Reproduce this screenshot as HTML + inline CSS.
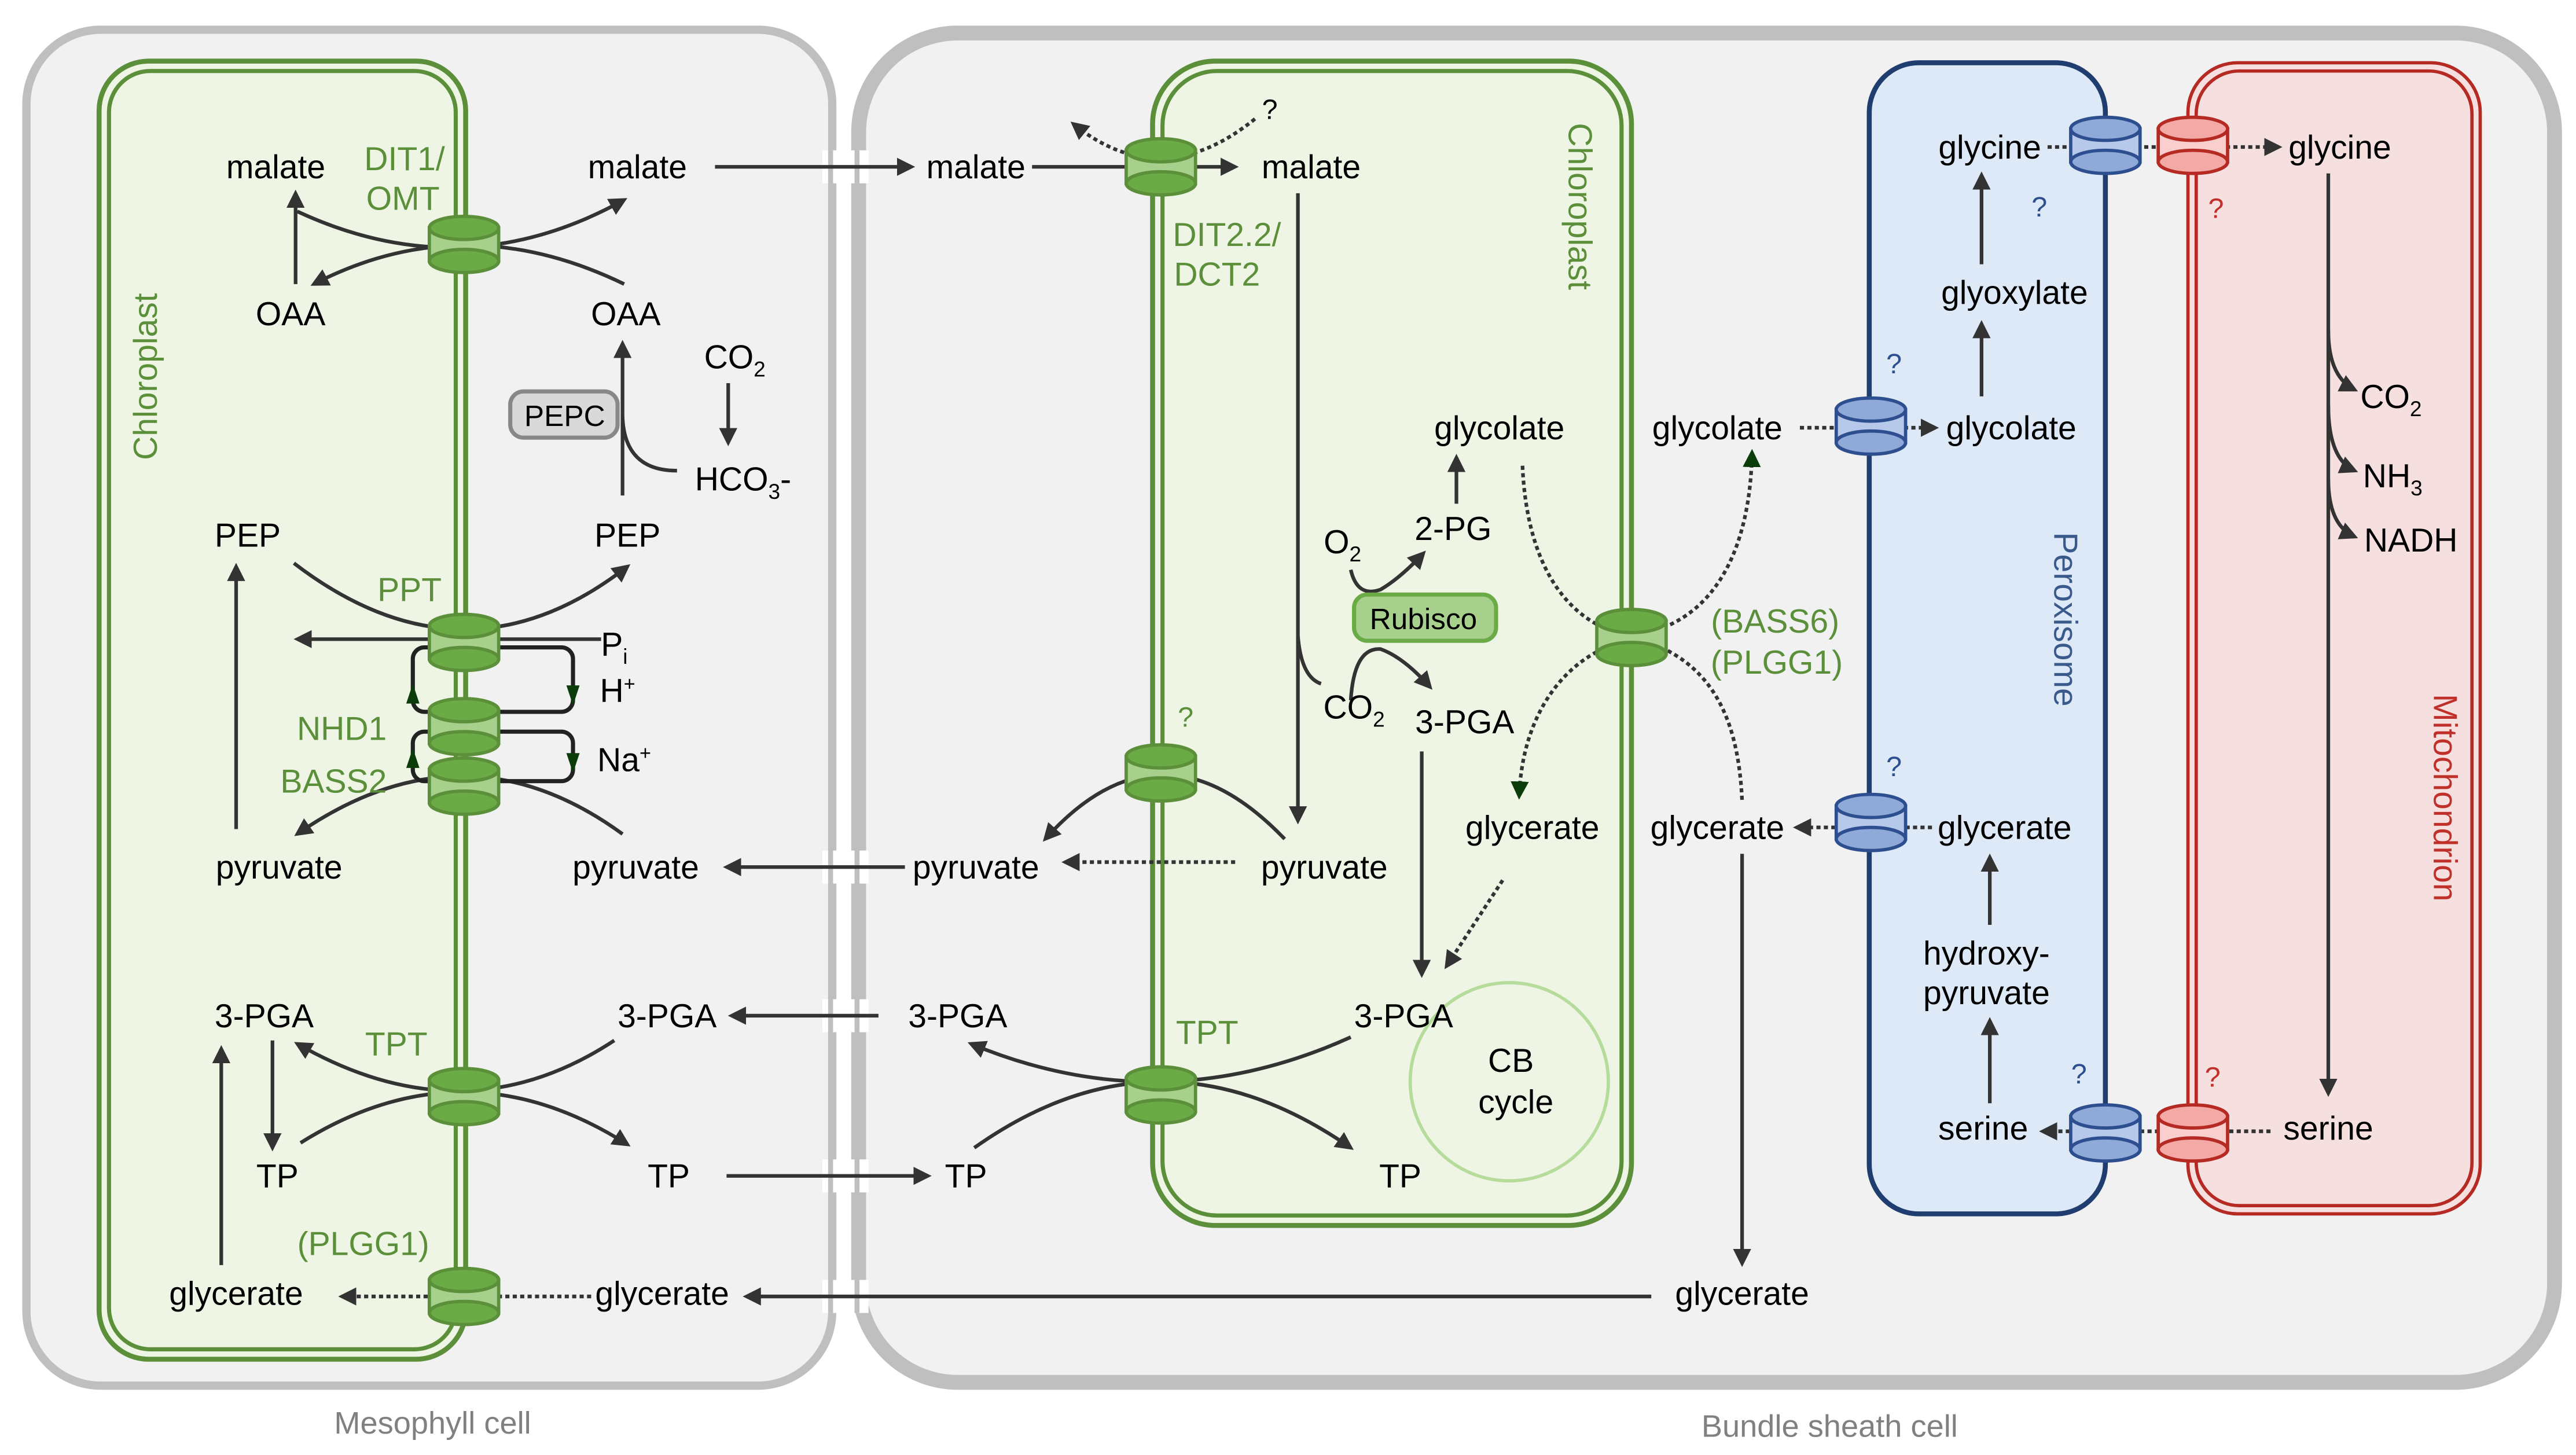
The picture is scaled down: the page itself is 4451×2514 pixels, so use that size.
<!DOCTYPE html>
<html><head><meta charset="utf-8"><style>
html,body{margin:0;padding:0;background:#fff;}
svg{display:block;}
text{font-family:"Liberation Sans",sans-serif;}
</style></head><body>
<svg width="4451" height="2514" viewBox="0 0 1560 881" preserveAspectRatio="none" xmlns="http://www.w3.org/2000/svg">
<defs>
<marker id="a" viewBox="0 0 10 10" refX="8" refY="5" markerWidth="5" markerHeight="5" orient="auto"><path d="M0,0L10,5L0,10z" fill="#333"/></marker>
<marker id="g" viewBox="0 0 10 10" refX="8" refY="5" markerWidth="5" markerHeight="5" orient="auto"><path d="M0,0L10,5L0,10z" fill="#0b3d0b"/></marker>
<g id="cg"><rect x="-21" y="-10" width="42" height="20" fill="#a8d08d" stroke="#5b8f3a" stroke-width="2"/><ellipse cx="0" cy="10" rx="21" ry="7" fill="#6aab45" stroke="#5b8f3a" stroke-width="2"/><ellipse cx="0" cy="-10" rx="21" ry="7" fill="#6aab45" stroke="#5b8f3a" stroke-width="2"/></g>
<g id="cb"><rect x="-21" y="-10" width="42" height="20" fill="#b7c9ea" stroke="#2e4f8f" stroke-width="2"/><ellipse cx="0" cy="10" rx="21" ry="7" fill="#8fa9d9" stroke="#2e4f8f" stroke-width="2"/><ellipse cx="0" cy="-10" rx="21" ry="7" fill="#8fa9d9" stroke="#2e4f8f" stroke-width="2"/></g>
<g id="cr"><rect x="-21" y="-10" width="42" height="20" fill="#f8cfcc" stroke="#b52a22" stroke-width="2"/><ellipse cx="0" cy="10" rx="21" ry="7" fill="#f3a9a5" stroke="#b52a22" stroke-width="2"/><ellipse cx="0" cy="-10" rx="21" ry="7" fill="#f3a9a5" stroke="#b52a22" stroke-width="2"/></g>
</defs>
<rect width="1560" height="881" fill="#fff"/>
<rect x="16" y="18" width="488" height="821" rx="45" fill="#f1f1f1" stroke="#bfbfbf" stroke-width="5"/>
<rect x="520" y="20" width="1027" height="817" rx="60" fill="#f1f1f1" stroke="#bfbfbf" stroke-width="9"/>
<g fill="#fff">
<rect x="498" y="91" width="28" height="20"/><rect x="498" y="515" width="28" height="20"/>
<rect x="498" y="605" width="28" height="20"/><rect x="498" y="702" width="28" height="20"/><rect x="498" y="775" width="28" height="20"/>
</g>
<g stroke="#bfbfbf" stroke-width="3"><line x1="503" y1="91" x2="503" y2="795"/><line x1="519" y1="91" x2="519" y2="795"/></g>
<g fill="#fff"><rect x="505" y="93" width="12" height="16"/><rect x="505" y="517" width="12" height="16"/><rect x="505" y="607" width="12" height="16"/><rect x="505" y="704" width="12" height="16"/><rect x="505" y="777" width="12" height="16"/></g>
<text x="262" y="868" font-size="19" fill="#808080" text-anchor="middle">Mesophyll cell</text>
<text x="1108" y="870" font-size="19" fill="#808080" text-anchor="middle">Bundle sheath cell</text>
<rect x="60" y="37" width="222" height="786" rx="30" fill="#eef5e5" stroke="#5b8f3a" stroke-width="3"/>
<rect x="66" y="43" width="210" height="774" rx="25" fill="none" stroke="#5b8f3a" stroke-width="2.5"/>
<text transform="translate(95,228) rotate(-90)" font-size="20" fill="#5b8f3a" text-anchor="middle">Chloroplast</text>
<rect x="698" y="37" width="290" height="705" rx="38" fill="#eef5e5" stroke="#5b8f3a" stroke-width="3"/>
<rect x="704" y="43" width="278" height="693" rx="33" fill="none" stroke="#5b8f3a" stroke-width="2.5"/>
<text transform="translate(950,125) rotate(90)" font-size="20" fill="#5b8f3a" text-anchor="middle">Chloroplast</text>
<circle cx="914" cy="655" r="60" fill="none" stroke="#b5dc9a" stroke-width="2"/>
<rect x="1132" y="38" width="143" height="697" rx="30" fill="#dde9f7" stroke="#1f3d6e" stroke-width="3"/>
<text transform="translate(1244,375) rotate(90)" font-size="20" fill="#3a5a8c" text-anchor="middle">Peroxisome</text>
<rect x="1325" y="38" width="177" height="697" rx="30" fill="#f5dfdf" stroke="#b52a22" stroke-width="2"/>
<rect x="1330" y="43" width="167" height="687" rx="26" fill="none" stroke="#b52a22" stroke-width="2"/>
<text transform="translate(1474,483) rotate(90)" font-size="20" fill="#c0302a" text-anchor="middle">Mitochondrion</text>
<g fill="none" stroke="#333" stroke-width="2.2">
<path d="M180,128 Q281,175 378,121" marker-end="url(#a)"/>
<path d="M378,172 Q281,125 190,172" marker-end="url(#a)"/>
<path d="M179,172 V117" marker-end="url(#a)"/>
<path d="M377,300 V208" marker-end="url(#a)"/>
<path d="M410,285 Q378,285 377,252"/>
<path d="M441,232 V268" marker-end="url(#a)"/>
<path d="M178,341 Q281,420 380,343" marker-end="url(#a)"/>
<path d="M364,387 H180" marker-end="url(#a)"/>
<path d="M143,502 V343" marker-end="url(#a)"/>
<path d="M377,505 Q281,435 180,505" marker-end="url(#a)"/>
<path d="M548,525 H440" marker-end="url(#a)"/>
<path d="M165,630 V695" marker-end="url(#a)"/>
<path d="M134,766 V635" marker-end="url(#a)"/>
<path d="M372,630 Q281,690 180,632" marker-end="url(#a)"/>
<path d="M182,692 Q281,630 380,693" marker-end="url(#a)"/>
<path d="M532,615 H443" marker-end="url(#a)"/>
<path d="M440,712 H562" marker-end="url(#a)"/>
<path d="M1000,785 H452" marker-end="url(#a)"/>
<path d="M433,101 H552" marker-end="url(#a)"/>
<path d="M625,101 H748" marker-end="url(#a)"/>
<path d="M786,117 V497" marker-end="url(#a)"/>
<path d="M786,385 Q788,410 800,414"/>
<path d="M778,508 Q703,430 633,508" marker-end="url(#a)"/>
<path d="M590,695 Q703,615 818,695" marker-end="url(#a)"/>
<path d="M818,628 Q703,680 588,632" marker-end="url(#a)"/>
<path d="M818,345 Q822,362 836,357 Q848,350 862,335" marker-end="url(#a)"/>
<path d="M818,424 Q820,392 836,393 Q850,398 866,416" marker-end="url(#a)"/>
<path d="M882,305 V277" marker-end="url(#a)"/>
<path d="M861,455 V590" marker-end="url(#a)"/>
<path d="M1055,517 V765" marker-end="url(#a)"/>
<path d="M1200,240 V196" marker-end="url(#a)"/>
<path d="M1200,160 V106" marker-end="url(#a)"/>
<path d="M1410,105 V662" marker-end="url(#a)"/>
<path d="M1410,200 Q1410,228 1426,236" marker-end="url(#a)"/>
<path d="M1410,245 Q1410,278 1426,285" marker-end="url(#a)"/>
<path d="M1410,290 Q1410,318 1426,325" marker-end="url(#a)"/>
<path d="M1205,668 V618" marker-end="url(#a)"/>
<path d="M1205,560 V519" marker-end="url(#a)"/>
</g>
<g fill="none" stroke="#333" stroke-width="2.2" stroke-dasharray="2.5,2">
<path d="M358,785 H207" marker-end="url(#a)"/>
<path d="M760,72 Q703,118 650,75" marker-end="url(#a)"/>
<path d="M748,522 H645" marker-end="url(#a)"/>
<path d="M910,533 L876,585" marker-end="url(#a)"/>
<path d="M1090,259 H1172" marker-end="url(#a)"/>
<path d="M1240,89 H1380" marker-end="url(#a)"/>
<path d="M1375,685 H1237" marker-end="url(#a)"/>
<path d="M1170,501 H1088" marker-end="url(#a)"/>
<path d="M1010,394 C1040,410 1053,440 1055,485"/>
<path d="M922,282 C925,350 955,380 988,385 C1040,378 1060,330 1061,274" marker-end="url(#g)"/>
<path d="M988,387 C950,395 922,430 920,482" marker-end="url(#g)"/>
</g>
<g fill="none" stroke="#222" stroke-width="2.5">
<rect x="250" y="392" width="97" height="39" rx="7"/>
<rect x="250" y="443" width="97" height="30" rx="7"/>
</g>
<g fill="#0b3d0b"><path d="M343,415 L351,415 L347,427z"/><path d="M246,426 L254,426 L250,414z"/><path d="M343,456 L351,456 L347,468z"/><path d="M246,465 L254,465 L250,453z"/></g>
<use href="#cg" x="281" y="148"/><use href="#cg" x="281" y="389"/><use href="#cg" x="281" y="440"/><use href="#cg" x="281" y="476"/><use href="#cg" x="281" y="664"/><use href="#cg" x="281" y="785"/>
<use href="#cg" x="703" y="101"/><use href="#cg" x="703" y="468"/><use href="#cg" x="703" y="663"/><use href="#cg" x="988" y="386"/>
<use href="#cb" x="1133" y="258"/><use href="#cb" x="1133" y="498"/><use href="#cb" x="1275" y="88"/><use href="#cb" x="1275" y="686"/>
<use href="#cr" x="1328" y="88"/><use href="#cr" x="1328" y="686"/>
<rect x="309" y="237" width="65" height="28" rx="8" fill="#d9d9d9" stroke="#888" stroke-width="2.5"/>
<text x="342" y="258" font-size="18" text-anchor="middle">PEPC</text>
<rect x="820" y="360" width="86" height="28" rx="8" fill="#a8d08d" stroke="#6aab45" stroke-width="2.5"/>
<text x="862" y="381" font-size="18" text-anchor="middle">Rubisco</text>
<g font-size="20" text-anchor="middle" fill="#000">
<text x="167" y="108">malate</text><text x="386" y="108">malate</text>
<text x="176" y="197">OAA</text><text x="379" y="197">OAA</text>
<text x="445" y="223">CO<tspan font-size="13" dy="5">2</tspan></text>
<text x="450" y="297">HCO<tspan font-size="13" dy="5">3</tspan><tspan dy="-5">-</tspan></text>
<text x="150" y="331">PEP</text><text x="380" y="331">PEP</text>
<text x="372" y="397">P<tspan font-size="13" dy="5">i</tspan></text>
<text x="374" y="425">H<tspan font-size="12" dy="-7">+</tspan></text>
<text x="378" y="467">Na<tspan font-size="12" dy="-7">+</tspan></text>
<text x="169" y="532">pyruvate</text><text x="385" y="532">pyruvate</text>
<text x="160" y="622">3-PGA</text><text x="404" y="622">3-PGA</text>
<text x="168" y="719">TP</text><text x="405" y="719">TP</text>
<text x="143" y="790">glycerate</text><text x="401" y="790">glycerate</text>
<text x="591" y="108">malate</text><text x="591" y="532">pyruvate</text><text x="580" y="622">3-PGA</text><text x="585" y="719">TP</text>
<text x="769" y="72" font-size="17">?</text>
<text x="794" y="108">malate</text>
<text x="908" y="266">glycolate</text><text x="880" y="327">2-PG</text>
<text x="813" y="335">O<tspan font-size="13" dy="5">2</tspan></text>
<text x="820" y="435">CO<tspan font-size="13" dy="5">2</tspan></text>
<text x="887" y="444">3-PGA</text>
<text x="928" y="508">glycerate</text><text x="802" y="532">pyruvate</text>
<text x="850" y="622">3-PGA</text><text x="915" y="649">CB</text><text x="918" y="674">cycle</text><text x="848" y="719">TP</text>
<text x="1040" y="266">glycolate</text><text x="1040" y="508">glycerate</text><text x="1055" y="790">glycerate</text>
<text x="1205" y="96">glycine</text><text x="1220" y="184">glyoxylate</text><text x="1218" y="266">glycolate</text>
<text x="1214" y="508">glycerate</text><text x="1203" y="584">hydroxy-</text><text x="1203" y="608">pyruvate</text><text x="1201" y="690">serine</text>
<text x="1417" y="96">glycine</text>
<text x="1448" y="247">CO<tspan font-size="13" dy="5">2</tspan></text>
<text x="1449" y="295">NH<tspan font-size="13" dy="5">3</tspan></text>
<text x="1460" y="334">NADH</text><text x="1410" y="690">serine</text>
</g>
<g font-size="20" text-anchor="middle" fill="#5b8f3a">
<text x="245" y="103">DIT1/</text><text x="244" y="127">OMT</text>
<text x="248" y="364">PPT</text><text x="207" y="448">NHD1</text><text x="202" y="480">BASS2</text>
<text x="240" y="639">TPT</text><text x="220" y="760">(PLGG1)</text>
<text x="743" y="149">DIT2.2/</text><text x="737" y="173">DCT2</text>
<text x="718" y="440" font-size="17">?</text>
<text x="731" y="632">TPT</text>
<text x="1075" y="383">(BASS6)</text><text x="1076" y="408">(PLGG1)</text>
</g>
<g font-size="17" text-anchor="middle" fill="#2e4f8f">
<text x="1147" y="226">?</text><text x="1147" y="470">?</text><text x="1235" y="131">?</text><text x="1259" y="656">?</text>
</g>
<g font-size="17" text-anchor="middle" fill="#c0302a">
<text x="1342" y="132">?</text><text x="1340" y="658">?</text>
</g>
</svg>
</body></html>
